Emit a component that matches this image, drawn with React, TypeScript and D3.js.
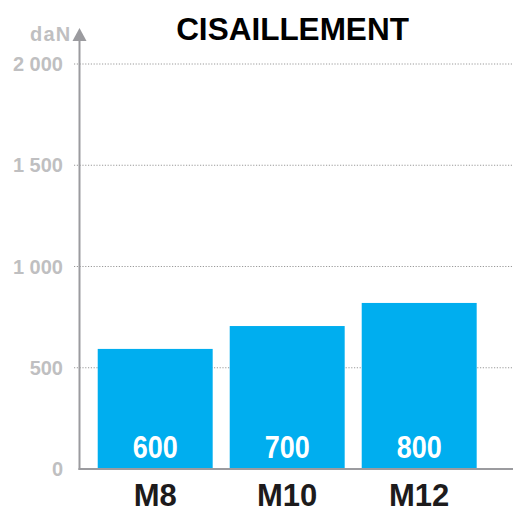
import * as d3 from 'd3';

const CATEGORIES = ['M8', 'M10', 'M12'];
const BAR_VALUES = [593, 706, 820];
const BAR_LABELS = ['600', '700', '800'];
const Y_TICKS = [0, 500, 1000, 1500, 2000];
const Y_TICK_LABELS = ['0', '500', '1 000', '1 500', '2 000'];
const TITLE = 'CISAILLEMENT';
const UNIT = 'daN';

const W = 513;
const H = 508;
const BAR_COLOR = '#00AEEF';
const AXIS_COLOR = '#9b9b9f';
const TICK_COLOR = '#bfbfc1';
const FONT = "'Liberation Sans', Arial, Helvetica, sans-serif";

export default function App() {
  const axisX = 79.5;
  const y = d3.scaleLinear().domain([0, 2000]).range([469, 64]);
  const x = d3.scaleBand<string>()
    .domain(CATEGORIES)
    .range([89.2, 485.2])
    .paddingInner(0.129)
    .paddingOuter(0.0645);

  return (
    <svg
      width={W}
      height={H}
      style={{ position: 'absolute', left: 0, top: 0, display: 'block', background: '#fff' }}
      fontFamily={FONT}
    >
      {/* grid */}
      {Y_TICKS.filter((t) => t > 0).map((t) => (
        <line
          key={`g${t}`}
          x1={74}
          x2={W}
          y1={y(t)}
          y2={y(t)}
          stroke="#9a9a9a"
          strokeWidth={1}
          strokeDasharray="1.2,1.6"
        />
      ))}

      {/* bars */}
      {CATEGORIES.map((c, i) => (
        <rect
          key={c}
          x={x(c)}
          y={y(BAR_VALUES[i])}
          width={x.bandwidth()}
          height={y(0) - y(BAR_VALUES[i])}
          fill={BAR_COLOR}
        />
      ))}

      {/* bar value labels (condensed look) */}
      {CATEGORIES.map((c, i) => (
        <text
          key={`v${c}`}
          transform={`translate(${(x(c) ?? 0) + x.bandwidth() / 2},458) scale(0.87,1)`}
          textAnchor="middle"
          fontSize={31}
          fontWeight="bold"
          fill="#fff"
        >
          {BAR_LABELS[i]}
        </text>
      ))}

      {/* axes */}
      <line x1={axisX} x2={axisX} y1={40} y2={470} stroke={AXIS_COLOR} strokeWidth={2} />
      <line x1={axisX - 1} x2={W} y1={y(0)} y2={y(0)} stroke={AXIS_COLOR} strokeWidth={2} />
      <path
        d={`M${axisX} 28 L${axisX + 7} 41 L${axisX - 7} 41 Z`}
        fill={AXIS_COLOR}
      />

      {/* y tick labels */}
      {Y_TICKS.map((t, i) => (
        <text
          key={`t${t}`}
          x={63}
          y={y(t) + 7.2}
          textAnchor="end"
          fontSize={20}
          fontWeight="bold"
          fill={TICK_COLOR}
        >
          {Y_TICK_LABELS[i]}
        </text>
      ))}

      <text x={71.5} y={40.5} textAnchor="end" fontSize={20} fontWeight="bold" fill={TICK_COLOR} letterSpacing={1.2}>
        {UNIT}
      </text>

      {/* category labels */}
      {CATEGORIES.map((c) => (
        <text
          key={`c${c}`}
          x={(x(c) ?? 0) + x.bandwidth() / 2}
          y={506}
          textAnchor="middle"
          fontSize={31}
          fontWeight="bold"
          fill="#1d1b1c"
        >
          {c}
        </text>
      ))}

      <text x={292.5} y={40} textAnchor="middle" fontSize={31.5} fontWeight="bold" fill="#000">
        {TITLE}
      </text>
    </svg>
  );
}
